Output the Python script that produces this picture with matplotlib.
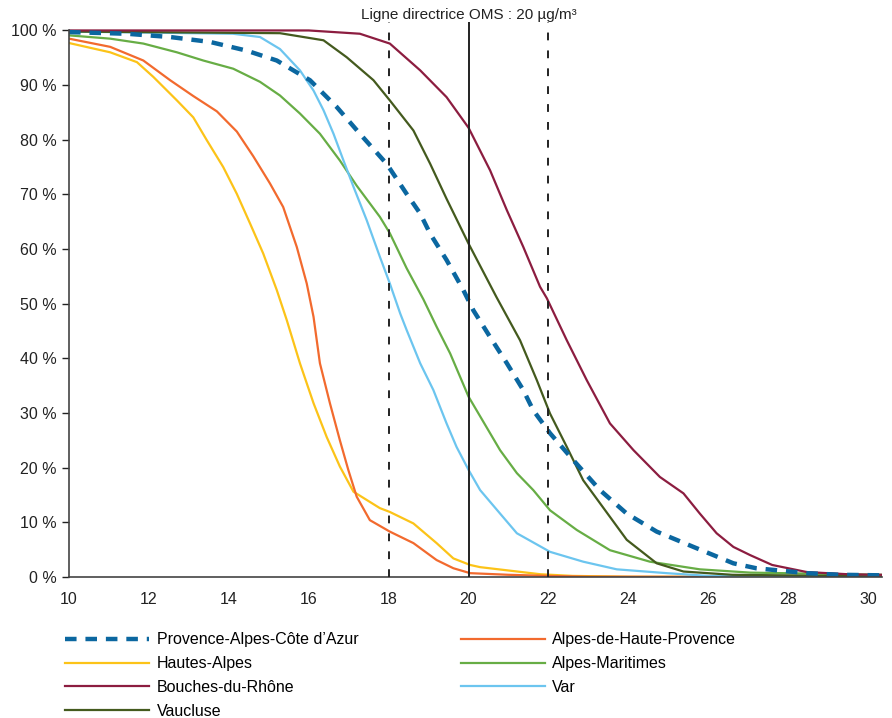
import matplotlib.pyplot as plt
from matplotlib.ticker import FuncFormatter

plt.rcParams['font.family'] = ['Liberation Sans', 'DejaVu Sans']

# Complementary cumulative distributions (% of population exposed above x µg/m3)
paca_x = [10, 11.44, 12.53, 13.53, 14.45, 15.2, 16.03, 16.7, 17.28, 17.95, 18.45, 18.79, 19.04,
          19.45, 19.87, 20.12, 20.54, 20.96, 21.37, 21.62, 22.04, 22.62, 23.29, 23.96, 24.71,
          25.63, 26.63, 27.2, 28.47, 29.3, 30.35]
paca_y = [99.7, 99.4, 98.8, 97.9, 96.3, 94.5, 90.9, 86.0, 81.1, 75.6, 70.1, 66.5, 62.8,
          58.0, 52.5, 48.8, 43.9, 39.1, 34.2, 30.5, 26.3, 21.4, 15.9, 11.6, 8.3,
          5.5, 2.5, 1.6, 0.7, 0.4, 0.3]

ahp_x = [10, 11.03, 11.86, 12.53, 13.11, 13.7, 14.2, 14.61, 15.03, 15.36, 15.7, 15.95, 16.12,
         16.28, 16.53, 16.78, 16.99, 17.2, 17.53, 18.03, 18.62, 19.2, 19.62, 20.04, 21.0,
         22.0, 23.0, 30.35]
ahp_y = [98.5, 97.0, 94.5, 90.9, 88.0, 85.2, 81.5, 77.0, 72.0, 67.7, 60.4, 53.7, 47.6,
         39.1, 31.8, 25.0, 19.6, 14.7, 10.4, 8.3, 6.2, 3.1, 1.6, 0.7, 0.4,
         0.2, 0.05, 0.0]

ha_x = [10, 11.03, 11.7, 12.11, 12.7, 13.11, 13.45, 13.86, 14.2, 14.53, 14.86, 15.2, 15.45,
        15.78, 16.12, 16.45, 16.78, 17.12, 17.78, 18.03, 18.62, 19.2, 19.62, 20.04, 20.29,
        21.8, 22.6, 24.0, 30.35]
ha_y = [97.7, 96.0, 94.2, 91.5, 87.2, 84.1, 79.9, 75.0, 70.1, 64.7, 59.2, 52.5, 47.0,
        39.1, 31.8, 25.6, 20.2, 15.6, 12.6, 11.9, 9.8, 6.2, 3.4, 2.2, 1.8,
        0.5, 0.2, 0.05, 0.0]

am_x = [10, 11.03, 11.86, 12.7, 13.36, 14.11, 14.78, 15.28, 15.78, 16.28, 16.78, 17.2, 17.78,
        18.03, 18.45, 18.87, 19.2, 19.54, 20.0, 20.79, 21.21, 21.62, 22.04, 22.71, 23.54,
        24.54, 25.79, 27.05, 30.35]
am_y = [99.1, 98.5, 97.6, 96.0, 94.5, 93.0, 90.6, 88.1, 84.8, 81.1, 76.2, 71.6, 65.9,
        62.9, 56.5, 50.8, 45.8, 40.9, 33.0, 23.2, 19.0, 15.9, 12.2, 8.6, 4.9,
        2.8, 1.4, 0.8, 0.4]

bdr_x = [10, 16.0, 17.28, 18.03, 18.79, 19.45, 20.0, 20.54, 20.96, 21.37, 21.79, 21.96, 22.46,
         22.96, 23.54, 24.13, 24.79, 25.38, 25.79, 26.21, 26.63, 27.05, 27.6, 28.47, 29.5,
         30.35]
bdr_y = [100, 100, 99.4, 97.6, 92.7, 87.8, 82.2, 74.4, 67.1, 60.4, 53.1, 51.0, 43.3,
         36.0, 28.1, 23.2, 18.3, 15.3, 11.6, 8.0, 5.5, 4.0, 2.2, 0.9, 0.5,
         0.4]

var_x = [10, 14.1, 14.78, 15.28, 15.78, 16.12, 16.37, 16.62, 16.87, 17.12, 17.45, 17.78, 18.03,
         18.29, 18.45, 18.79, 19.12, 19.45, 19.7, 20.0, 20.29, 20.79, 21.21, 22.04, 22.87,
         23.71, 24.96, 26.0, 30.35]
var_y = [99.8, 99.4, 98.8, 96.6, 92.7, 89.0, 85.4, 81.1, 76.2, 71.4, 65.3, 58.6, 53.7,
         48.2, 45.2, 39.1, 34.2, 28.1, 23.8, 19.6, 15.9, 11.6, 8.0, 4.6, 2.8,
         1.4, 0.7, 0.2, 0.1]

vau_x = [10, 15.28, 16.37, 16.95, 17.62, 18.03, 18.62, 19.04, 19.45, 20.0, 20.7, 21.29, 21.71,
         22.04, 22.46, 22.87, 23.29, 23.96, 24.71, 25.38, 26.6, 30.35]
vau_y = [99.8, 99.5, 98.2, 95.1, 90.9, 87.2, 81.7, 75.6, 69.2, 61.0, 51.2, 43.3, 36.0,
         29.9, 23.8, 17.7, 13.5, 6.8, 2.5, 1.0, 0.4, 0.1]

xticks = [10, 12, 14, 16, 18, 20, 22, 24, 26, 28, 30]
yticks = [0, 10, 20, 30, 40, 50, 60, 70, 80, 90, 100]

fig = plt.figure(figsize=(8.92, 7.18), dpi=100)
ax = fig.add_axes([0.0774, 0.1964, 0.9114, 0.7726])

lw = 1.6
ax.plot(ha_x, ha_y, color='#fcc318', lw=lw, label='Hautes-Alpes')
ax.plot(ahp_x, ahp_y, color='#f26a2e', lw=lw, label='Alpes-de-Haute-Provence')
ax.plot(am_x, am_y, color='#67ad45', lw=lw, label='Alpes-Maritimes')
ax.plot(var_x, var_y, color='#6cc5ef', lw=lw, label='Var')
ax.plot(vau_x, vau_y, color='#445a1e', lw=lw, label='Vaucluse')
ax.plot(bdr_x, bdr_y, color='#8c1d40', lw=lw, label='Bouches-du-Rhône')
ax.plot(paca_x, paca_y, color='#0b67a0', lw=3.2, dashes=(2.6, 2.0),
        label='Provence-Alpes-Côte d\u2019Azur')

# WHO guideline and +/- 2 µg/m3
ax.axvline(20, color='#222222', lw=1.4, zorder=5)
ax.axvline(18, color='#222222', lw=1.4, ls=(0, (4, 5.2)), zorder=5)
ax.axvline(22, color='#222222', lw=1.4, ls=(0, (4, 5.2)), zorder=5)
ax.text(20, 102.9, 'Ligne directrice OMS : 20 µg/m³', ha='center', va='center',
        fontsize=11, color='#222222')

ax.set_xlim(10, 30.35)
ax.set_ylim(0, 101.5)
ax.set_xticks(xticks)
ax.set_yticks(yticks)
ax.yaxis.set_major_formatter(FuncFormatter(lambda v, p: f'{int(v)} %'))
ax.tick_params(axis='x', length=0, pad=11, labelsize=11.5, colors='#222222')
ax.tick_params(axis='y', length=5, width=1, pad=4, labelsize=11.5, colors='#222222',
               direction='out')
for s in ['top', 'right']:
    ax.spines[s].set_visible(False)
for s in ['left', 'bottom']:
    ax.spines[s].set_color('#444444')
    ax.spines[s].set_linewidth(1.2)
ax.spines['left'].set_bounds(0, 100)

h, l = ax.get_legend_handles_labels()
order = ['Provence-Alpes-Côte d\u2019Azur', 'Hautes-Alpes', 'Bouches-du-Rhône', 'Vaucluse',
         'Alpes-de-Haute-Provence', 'Alpes-Maritimes', 'Var']
hm = dict(zip(l, h))
fig.legend([hm[k] for k in order], order, ncol=2, loc='upper left',
           bbox_to_anchor=(0.0655, 0.128), frameon=False, fontsize=11.5,
           handlelength=5.3, handletextpad=0.45, columnspacing=6.4, labelspacing=0.55,
           borderaxespad=0)

fig.savefig('out.png', dpi=100)
